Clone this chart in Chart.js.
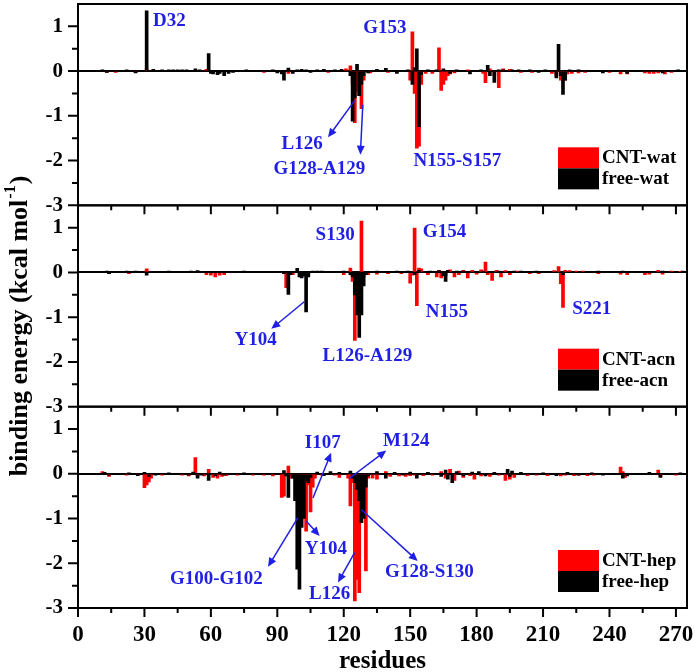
<!DOCTYPE html>
<html>
<head>
<meta charset="utf-8">
<script src="https://cdn.jsdelivr.net/npm/chart.js@4.4.1/dist/chart.umd.min.js"></script>
<style>
  html, body { margin: 0; padding: 0; background: #fff; }
</style>
</head>
<body>
<canvas id="myChart" width="700" height="672"></canvas>
<script>
// binding energy per residue, [residue, kcal/mol]
const watCnt = [[13,-0.03],[17,-0.03],[26,-0.03],[31,0.05],[58,0.04],[84,-0.03],[95,-0.05],[113,-0.03],[121,0.05],[123,0.12],
  [124,-0.3],[125,-1.15],[126,-0.45],[127,-0.55],[128,-0.84],[129,-0.2],[132,-0.04],[140,-0.03],[150,-0.2],[151,0.88],
  [152,-0.5],[153,-1.72],[154,-1.68],[155,-0.3],[157,-0.05],[160,-0.05],[163,0.52],[164,-0.43],[165,-0.3],[166,-0.2],
  [167,-0.1],[168,-0.06],[170,-0.04],[176,0.03],[183,-0.05],[184,-0.26],[186,0.05],[188,-0.1],[190,-0.37],[192,0.05],
  [195,0.04],[200,-0.03],[205,-0.03],[214,-0.05],[216,-0.1],[218,-0.2],[219,-0.15],[220,-0.2],[221,-0.06],[223,-0.05],
  [226,-0.04],[229,-0.03],[240,-0.03],[245,-0.06],[248,-0.06],[256,-0.04],[258,-0.05],[260,-0.05],[262,-0.04],[265,-0.06],[268,-0.03]];
const watFree = [[11,0.03],[13,-0.03],[22,0.03],[26,-0.04],[31,1.35],[34,0.04],[38,0.03],[41,0.03],[43,0.03],[45,0.03],
  [47,0.03],[49,0.03],[53,0.05],[55,0.03],[59,0.39],[60,-0.05],[61,-0.06],[63,-0.08],[64,-0.05],[66,-0.1],
  [68,-0.05],[70,-0.03],[76,0.03],[88,0.03],[90,-0.04],[92,-0.06],[93,-0.2],[95,0.07],[97,-0.05],[99,0.03],
  [101,0.04],[103,0.03],[105,-0.03],[108,0.03],[111,0.04],[116,0.03],[119,0.04],[123,-0.1],[124,-1.12],[125,-0.6],
  [126,0.15],[127,-0.55],[128,-0.3],[129,-0.1],[131,-0.04],[135,0.04],[139,0.06],[144,-0.05],[149,0.03],[151,-0.3],
  [152,0.08],[153,0.5],[154,-1.24],[155,-0.08],[158,0.03],[162,0.03],[165,0.05],[168,-0.05],[171,0.03],[177,-0.06],
  [182,0.03],[185,0.13],[186,-0.1],[188,-0.25],[190,0.03],[192,0.03],[196,0.03],[199,0.03],[204,0.03],[208,-0.03],
  [211,0.03],[216,-0.15],[217,0.6],[218,-0.1],[219,-0.52],[220,-0.2],[222,0.03],[226,0.03],[237,-0.04],[248,-0.05],
  [264,-0.04],[271,0.03]];

const acnCnt = [[14,-0.03],[23,-0.03],[31,0.08],[58,-0.05],[60,-0.06],[62,-0.1],[64,-0.06],[66,-0.05],[94,-0.34],[97,-0.05],
  [101,-0.08],[104,-0.05],[120,-0.05],[123,0.1],[124,-0.2],[125,-1.52],[126,-0.3],[127,-0.2],[128,1.15],[129,-0.1],
  [131,-0.05],[135,-0.04],[140,-0.03],[146,-0.03],[150,-0.24],[151,-0.06],[152,0.99],[153,-0.74],[154,0.1],[155,0.08],
  [158,-0.05],[162,-0.1],[163,0.05],[164,-0.12],[166,-0.08],[168,0.06],[170,-0.1],[172,-0.05],[174,0.05],[176,-0.12],
  [178,0.05],[180,-0.04],[182,0.06],[184,0.23],[185,-0.05],[187,-0.18],[189,0.05],[191,-0.1],[193,0.04],[195,-0.05],
  [198,0.03],[204,-0.03],[208,-0.03],[215,0.04],[217,0.13],[218,-0.25],[219,-0.78],[220,0.05],[222,0.04],[225,0.03],
  [228,0.03],[235,-0.03],[245,-0.04],[248,-0.05],[256,-0.05],[258,-0.04],[262,0.05],[264,-0.04],[268,0.03],[272,0.02]];
const acnFree = [[13,0.03],[14,-0.03],[22,0.03],[26,0.03],[31,-0.06],[41,0.03],[51,0.03],[54,0.04],[75,0.03],[93,-0.03],
  [95,-0.49],[96,-0.05],[99,0.09],[100,-0.1],[101,-0.12],[102,-0.08],[103,-0.88],[104,-0.1],[106,0.03],[108,0.03],
  [110,0.03],[120,0.03],[123,-0.05],[124,-0.1],[125,-0.5],[126,-0.95],[127,-1.45],[128,-0.95],[129,-0.3],[130,-0.05],
  [135,0.03],[144,0.03],[149,0.03],[152,-0.05],[154,0.05],[159,0.03],[163,0.04],[165,-0.08],[166,-0.2],[167,0.05],
  [171,0.03],[174,0.03],[183,0.03],[190,0.03],[197,0.03],[200,0.03],[207,0.03],[219,-0.05],[235,0.03],[246,0.03],
  [264,0.03],[273,0.03]];

const hepCnt = [[11,0.05],[14,-0.06],[22,-0.03],[27,-0.03],[30,-0.31],[31,-0.25],[32,-0.18],[33,-0.1],[38,-0.03],[47,-0.03],
  [50,-0.05],[53,0.36],[54,-0.05],[57,-0.05],[59,0.1],[61,-0.08],[63,-0.1],[65,-0.06],[67,-0.04],[72,-0.03],
  [79,-0.03],[84,-0.03],[88,-0.05],[92,-0.53],[93,-0.5],[95,0.17],[96,-0.1],[100,-0.3],[101,-0.4],[102,-1.0],
  [103,-1.28],[104,-0.25],[105,-0.85],[106,-0.3],[107,-0.1],[110,-0.03],[116,-0.03],[118,-0.08],[122,-0.1],[123,-0.72],
  [124,-0.2],[125,-2.84],[126,-2.36],[127,-2.66],[128,-0.5],[129,-0.4],[130,-2.17],[131,-0.1],[133,-0.1],[135,-0.12],
  [139,0.05],[141,-0.06],[145,-0.05],[148,-0.06],[150,-0.04],[152,-0.03],[156,-0.04],[160,-0.03],[164,0.05],[166,-0.1],
  [168,0.1],[170,-0.15],[172,0.06],[174,-0.08],[177,-0.04],[179,-0.12],[182,-0.05],[186,-0.06],[190,-0.03],[193,-0.15],
  [195,-0.12],[197,-0.08],[203,-0.04],[207,-0.03],[212,-0.04],[218,-0.05],[220,-0.03],[224,-0.04],[226,-0.03],[230,-0.04],
  [233,-0.03],[245,0.15],[246,0.05],[247,-0.08],[262,0.08],[263,-0.06],[270,-0.03]];
const hepFree = [[12,0.03],[14,-0.03],[23,0.02],[27,-0.04],[30,0.03],[32,-0.06],[35,-0.03],[41,0.02],[50,-0.03],[52,0.04],
  [54,-0.1],[56,-0.03],[59,-0.15],[62,-0.05],[64,0.04],[66,-0.03],[75,0.02],[93,0.07],[94,-0.05],[95,-0.53],
  [97,-0.1],[98,-0.6],[99,-2.13],[100,-2.58],[101,-1.2],[102,-1.0],[103,-0.15],[104,-0.2],[105,-0.08],[108,0.04],
  [111,-0.04],[114,0.05],[118,0.03],[123,0.06],[124,-0.1],[125,-0.2],[126,-0.35],[127,-0.6],[128,-1.09],[129,-1.0],
  [130,-0.3],[131,-0.05],[135,0.05],[139,-0.1],[143,0.03],[147,-0.03],[150,0.04],[153,-0.1],[158,0.03],[164,-0.06],
  [166,0.08],[167,-0.12],[169,-0.2],[171,0.05],[174,-0.05],[178,0.04],[181,0.05],[184,-0.05],[188,0.03],[194,0.1],
  [195,-0.06],[196,0.06],[200,0.03],[210,0.02],[216,-0.04],[221,0.03],[226,-0.03],[232,0.02],[237,-0.03],[246,-0.1],
  [248,-0.05],[258,0.03],[263,-0.08],[272,0.02]];

const xTicks = [0, 30, 60, 90, 120, 150, 180, 210, 240, 270];
const xMinor = [15, 45, 75, 105, 135, 165, 195, 225, 255];
const yTicks = [-3, -2, -1, 0, 1];
const yMinor = [-2.5, -1.5, -0.5, 0.5];

// labels: [axis, text, residue, energy]
const notes = [
  ['yWat', 'D32', 41.3, 1.01], ['yWat', 'G153', 138.6, 0.85], ['yWat', 'L126', 101.2, -1.73],
  ['yWat', 'G128-A129', 109, -2.31], ['yWat', 'N155-S157', 171.3, -2.13],
  ['yAcn', 'S130', 116.1, 0.73], ['yAcn', 'G154', 165.5, 0.8], ['yAcn', 'N155', 166.6, -1.0],
  ['yAcn', 'S221', 232, -0.92], ['yAcn', 'Y104', 80.2, -1.63], ['yAcn', 'L126-A129', 130.7, -1.97],
  ['yHep', 'I107', 110.5, 0.58], ['yHep', 'M124', 148.2, 0.62], ['yHep', 'Y104', 111.9, -1.79],
  ['yHep', 'G100-G102', 62.5, -2.47], ['yHep', 'L126', 113.6, -2.8], ['yHep', 'G128-S130', 158.7, -2.31]
];
// arrows: [axis, fromRes, fromE, toRes, toE]
const arrows = [
  ['yWat', 124.9, -0.66, 112.9, -1.48], ['yWat', 128.6, -0.75, 127.5, -1.87],
  ['yAcn', 102.3, -0.65, 87.3, -1.26],
  ['yHep', 106.1, -0.54, 114.3, 0.47], ['yHep', 122.6, -0.1, 139.2, 0.52], ['yHep', 103.1, -1.06, 109.1, -1.39],
  ['yHep', 99.3, -0.98, 85.8, -2.08], ['yHep', 124.9, -1.76, 117.4, -2.43], ['yHep', 127.9, -0.8, 153.4, -1.95]
];

const panels = ['yWat', 'yAcn', 'yHep'];
const serif = '"Liberation Serif", "Times New Roman", serif';
const blue = '#1f1fe6';

function barSet(label, pairs, axis, color, order) {
  return {
    label: label,
    yAxisID: axis,
    xAxisID: 'x',
    data: pairs.map(p => ({x: p[0], y: p[1]})),
    backgroundColor: color,
    borderWidth: 0,
    barThickness: 3,
    grouped: false,
    order: order
  };
}

function panelScale(weight) {
  return {
    type: 'linear',
    position: 'left',
    stack: 'panels',
    stackWeight: 1,
    weight: weight,
    min: -3,
    max: 1.5,
    afterBuildTicks: s => { s.ticks = yTicks.map(v => ({value: v})); },
    afterFit: s => { s.width = 60; s.paddingTop = 0; s.paddingBottom = 0; },
    ticks: { autoSkip: false, padding: 15, color: '#000', font: {family: serif, size: 21, weight: 'bold'} },
    grid: {
      drawTicks: false,
      lineWidth: 2,
      color: c => (c.tick && c.tick.value === 0) ? '#000' : 'rgba(0,0,0,0)'
    },
    border: { display: false }
  };
}

function drawArrow(ctx, x1, y1, x2, y2) {
  const a = Math.atan2(y2 - y1, x2 - x1);
  const hl = 9, hw = 4;
  ctx.beginPath();
  ctx.moveTo(x1, y1);
  ctx.lineTo(x2 - Math.cos(a) * hl * 0.8, y2 - Math.sin(a) * hl * 0.8);
  ctx.stroke();
  ctx.beginPath();
  ctx.moveTo(x2, y2);
  ctx.lineTo(x2 - Math.cos(a) * hl - Math.sin(a) * hw, y2 - Math.sin(a) * hl + Math.cos(a) * hw);
  ctx.lineTo(x2 - Math.cos(a) * hl + Math.sin(a) * hw, y2 - Math.sin(a) * hl - Math.cos(a) * hw);
  ctx.closePath();
  ctx.fill();
}

const decor = {
  id: 'decor',
  afterDraw(chart) {
    const ctx = chart.ctx;
    const xs = chart.scales.x;
    const area = chart.chartArea;
    ctx.save();
    ctx.strokeStyle = '#000';
    ctx.fillStyle = '#000';
    ctx.lineWidth = 2;

    panels.forEach(id => {
      const ys = chart.scales[id];
      // frame
      ctx.strokeRect(area.left, ys.top, area.right - area.left, ys.bottom - ys.top);
      // ticks
      ctx.beginPath();
      yTicks.forEach(v => { const py = ys.getPixelForValue(v); ctx.moveTo(area.left - 10, py); ctx.lineTo(area.left, py); });
      yMinor.forEach(v => { const py = ys.getPixelForValue(v); ctx.moveTo(area.left - 6, py); ctx.lineTo(area.left, py); });
      xTicks.forEach(v => { const px = xs.getPixelForValue(v); ctx.moveTo(px, ys.bottom); ctx.lineTo(px, ys.bottom + 9); });
      xMinor.forEach(v => { const px = xs.getPixelForValue(v); ctx.moveTo(px, ys.bottom); ctx.lineTo(px, ys.bottom + 5); });
      ctx.stroke();

      // legend
      const sets = chart.data.datasets.filter(d => d.yAxisID === id);
      ctx.font = 'bold 19px ' + serif;
      ctx.textBaseline = 'middle';
      ctx.textAlign = 'left';
      sets.forEach((d, i) => {
        const top = ys.bottom - 58 + i * 21;
        ctx.fillStyle = d.backgroundColor;
        ctx.fillRect(558, top, 41, 21);
        ctx.fillStyle = '#000';
        ctx.fillText(d.label, 602, top + 11);
      });
    });

    // residue labels and arrows
    ctx.fillStyle = blue;
    ctx.strokeStyle = blue;
    ctx.lineWidth = 1.5;
    ctx.font = 'bold 19px ' + serif;
    ctx.textAlign = 'center';
    ctx.textBaseline = 'alphabetic';
    notes.forEach(n => {
      const ys = chart.scales[n[0]];
      ctx.fillText(n[1], xs.getPixelForValue(n[2]), ys.getPixelForValue(n[3]));
    });
    arrows.forEach(a => {
      const ys = chart.scales[a[0]];
      drawArrow(ctx, xs.getPixelForValue(a[1]), ys.getPixelForValue(a[2]),
        xs.getPixelForValue(a[3]), ys.getPixelForValue(a[4]));
    });

    // y title with superscript
    ctx.fillStyle = '#000';
    ctx.translate(20, 326);
    ctx.rotate(-Math.PI / 2);
    ctx.textAlign = 'left';
    ctx.textBaseline = 'middle';
    const main = 'binding energy (kcal mol';
    ctx.font = 'bold 26px ' + serif;
    const w1 = ctx.measureText(main).width;
    const w3 = ctx.measureText(')').width;
    ctx.font = 'bold 16px ' + serif;
    const w2 = ctx.measureText('-1').width;
    const x0 = -(w1 + w2 + w3 + 2) / 2;
    ctx.font = 'bold 26px ' + serif;
    ctx.fillText(main, x0, 0);
    ctx.fillText(')', x0 + w1 + w2 + 2, 0);
    ctx.font = 'bold 16px ' + serif;
    ctx.fillText('-1', x0 + w1 + 1, -9);
    ctx.restore();
  }
};

new Chart(document.getElementById('myChart'), {
  type: 'bar',
  data: {
    datasets: [
      barSet('CNT-wat', watCnt, 'yWat', '#ff0000', 2),
      barSet('free-wat', watFree, 'yWat', '#000000', 1),
      barSet('CNT-acn', acnCnt, 'yAcn', '#ff0000', 2),
      barSet('free-acn', acnFree, 'yAcn', '#000000', 1),
      barSet('CNT-hep', hepCnt, 'yHep', '#ff0000', 2),
      barSet('free-hep', hepFree, 'yHep', '#000000', 1)
    ]
  },
  options: {
    responsive: false,
    animation: false,
    layout: { padding: { left: 18, right: 13, top: 4, bottom: 0 } },
    plugins: { legend: { display: false }, tooltip: { enabled: false } },
    scales: {
      x: {
        type: 'linear',
        position: 'bottom',
        offset: false,
        min: 0,
        max: 275,
        afterBuildTicks: s => { s.ticks = xTicks.map(v => ({value: v})); },
        afterFit: s => { s.height = 64; s.paddingLeft = 0; s.paddingRight = 0; },
        ticks: { autoSkip: false, maxRotation: 0, padding: 13, color: '#000', font: {family: serif, size: 23, weight: 'bold'} },
        grid: { display: false, drawTicks: false },
        border: { display: false },
        title: { display: true, text: 'residues', color: '#000', padding: {top: 0, bottom: -2}, font: {family: serif, size: 25, weight: 'bold', lineHeight: 1} }
      },
      yWat: panelScale(3),
      yAcn: panelScale(2),
      yHep: panelScale(1)
    }
  },
  plugins: [decor]
});
</script>
</body>
</html>
